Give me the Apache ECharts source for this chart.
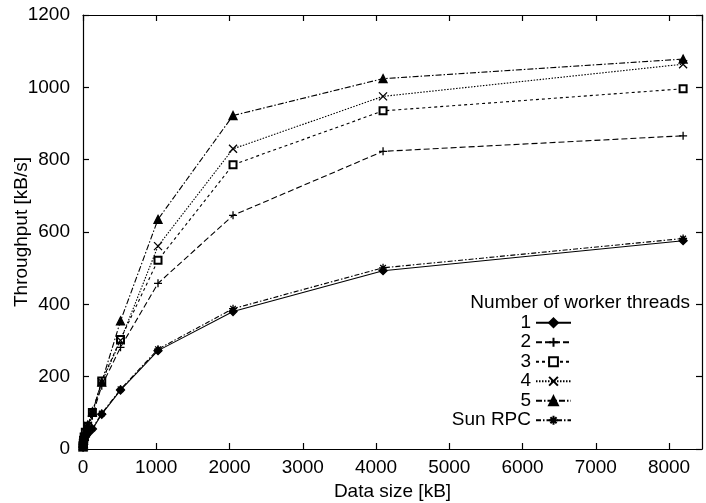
<!DOCTYPE html>
<html>
<head>
<meta charset="utf-8">
<script src="https://cdn.jsdelivr.net/npm/echarts@6/dist/echarts.min.js"></script>
<style>
  html, body { margin: 0; padding: 0; background: #fff; }
  #chart { width: 706px; height: 503px; }
</style>
</head>
<body>
<div id="chart"></div>
<script>
// data size in kB
var sizes = [1, 2, 4, 8, 16, 32, 64, 128, 256, 512, 1024, 2048, 4096, 8192]
// throughput in kB/s
var thr1 = [5, 8, 12, 18, 25, 33, 42, 55, 96, 163, 272, 380, 493, 576]
var thr2 = [6, 10, 15, 22, 30, 42, 58, 92, 175, 281, 458, 646, 823, 866]
var thr3 = [6, 10, 16, 24, 33, 46, 63, 101, 188, 303, 522, 786, 935, 996]
var thr4 = [6, 10, 16, 24, 33, 46, 64, 100, 185, 300, 561, 830, 975, 1064]
var thr5 = [6, 11, 17, 25, 35, 48, 66, 103, 185, 354, 635, 922, 1024, 1078]
var thrSun = [5, 8, 12, 18, 25, 34, 44, 57, 98, 165, 276, 388, 501, 582]
var xTicks = [0, 1000, 2000, 3000, 4000, 5000, 6000, 7000, 8000]
var yTicks = [0, 200, 400, 600, 800, 1000, 1200]

var FONT = '"Liberation Sans", Arial, sans-serif'
var plus = 'path://M0,5L10,5M5,0L5,10'
var cross = 'path://M0,0L10,10M10,0L0,10'
var star = 'path://M0,5L10,5M5,0L5,10M1.5,1.5L8.5,8.5M8.5,1.5L1.5,8.5'

function pairs(vals) {
  return sizes.map(function (s, i) { return [s, vals[i]] })
}

function mkSeries(name, vals, symbol, dash, size) {
  return {
    name: name,
    type: 'line',
    data: pairs(vals),
    symbol: symbol,
    symbolSize: size || 7,
    showAllSymbol: true,
    lineStyle: { color: '#000', width: 1.1, type: dash },
    itemStyle: { color: '#000', borderColor: '#000', borderWidth: 1.3 },
    emphasis: { disabled: true },
    z: 3
  }
}

var tickStyle = { inside: true, length: 6, lineStyle: { color: '#000', width: 1.2 } }
var lineStyle = { onZero: false, lineStyle: { color: '#000', width: 1.2 } }

var option = {
  animation: false,
  backgroundColor: '#fff',
  textStyle: { fontFamily: FONT },
  title: {
    text: 'Number of worker threads',
    right: 16,
    top: 293,
    padding: 0,
    textStyle: { fontFamily: FONT, fontSize: 19, fontWeight: 'normal', color: '#000' }
  },
  legend: {
    orient: 'vertical',
    align: 'right',
    right: 134,
    top: 313,
    padding: 0,
    itemWidth: 35,
    itemHeight: 11,
    itemGap: 0,
    textStyle: { fontFamily: FONT, fontSize: 19, lineHeight: 19.5, color: '#000' },
    data: ['1', '2', '3', '4', '5', 'Sun RPC']
  },
  grid: { left: 83, right: 4, top: 15, bottom: 54, containLabel: false, outerBoundsMode: 'none' },
  xAxis: [{
    type: 'value',
    min: 0,
    max: 8450,
    interval: 1000,
    name: 'Data size [kB]',
    nameLocation: 'middle',
    nameGap: 30,
    nameTextStyle: { fontFamily: FONT, fontSize: 19, color: '#000' },
    axisLine: lineStyle,
    axisTick: tickStyle,
    splitLine: { show: false },
    axisLabel: {
      margin: 9,
      showMaxLabel: false,
      fontFamily: FONT, fontSize: 19, color: '#000',
      formatter: function (v) { return xTicks.indexOf(v) >= 0 ? String(v) : '' }
    }
  }, {
    type: 'value',
    position: 'top',
    min: 0,
    max: 8450,
    interval: 1000,
    axisLine: lineStyle,
    axisTick: tickStyle,
    splitLine: { show: false },
    axisLabel: { show: false }
  }],
  yAxis: [{
    type: 'value',
    min: 0,
    max: 1200,
    interval: 200,
    name: 'Throughput [kB/s]',
    nameLocation: 'middle',
    nameGap: 52,
    nameMoveOverlap: false,
    nameTextStyle: { fontFamily: FONT, fontSize: 19, color: '#000' },
    axisLine: lineStyle,
    axisTick: tickStyle,
    splitLine: { show: false },
    axisLabel: {
      margin: 13,
      fontFamily: FONT, fontSize: 19, color: '#000',
      formatter: function (v) { return yTicks.indexOf(v) >= 0 ? String(v) : '' }
    }
  }, {
    type: 'value',
    position: 'right',
    min: 0,
    max: 1200,
    interval: 200,
    axisLine: lineStyle,
    axisTick: tickStyle,
    splitLine: { show: false },
    axisLabel: { show: false }
  }],
  series: [
    mkSeries('1', thr1, 'diamond', 'solid', 8),
    mkSeries('2', thr2, plus, [6, 3], 8),
    mkSeries('3', thr3, 'emptyRect', [3, 3], 7),
    mkSeries('4', thr4, cross, [1.5, 1.5], 8),
    mkSeries('5', thr5, 'triangle', [6, 2, 1.5, 2], 8),
    mkSeries('Sun RPC', thrSun, star, [5, 2, 1.5, 2], 8)
  ]
}

var chart = echarts.init(document.getElementById('chart'), null, { renderer: 'canvas' })
chart.setOption(option)
</script>
</body>
</html>
